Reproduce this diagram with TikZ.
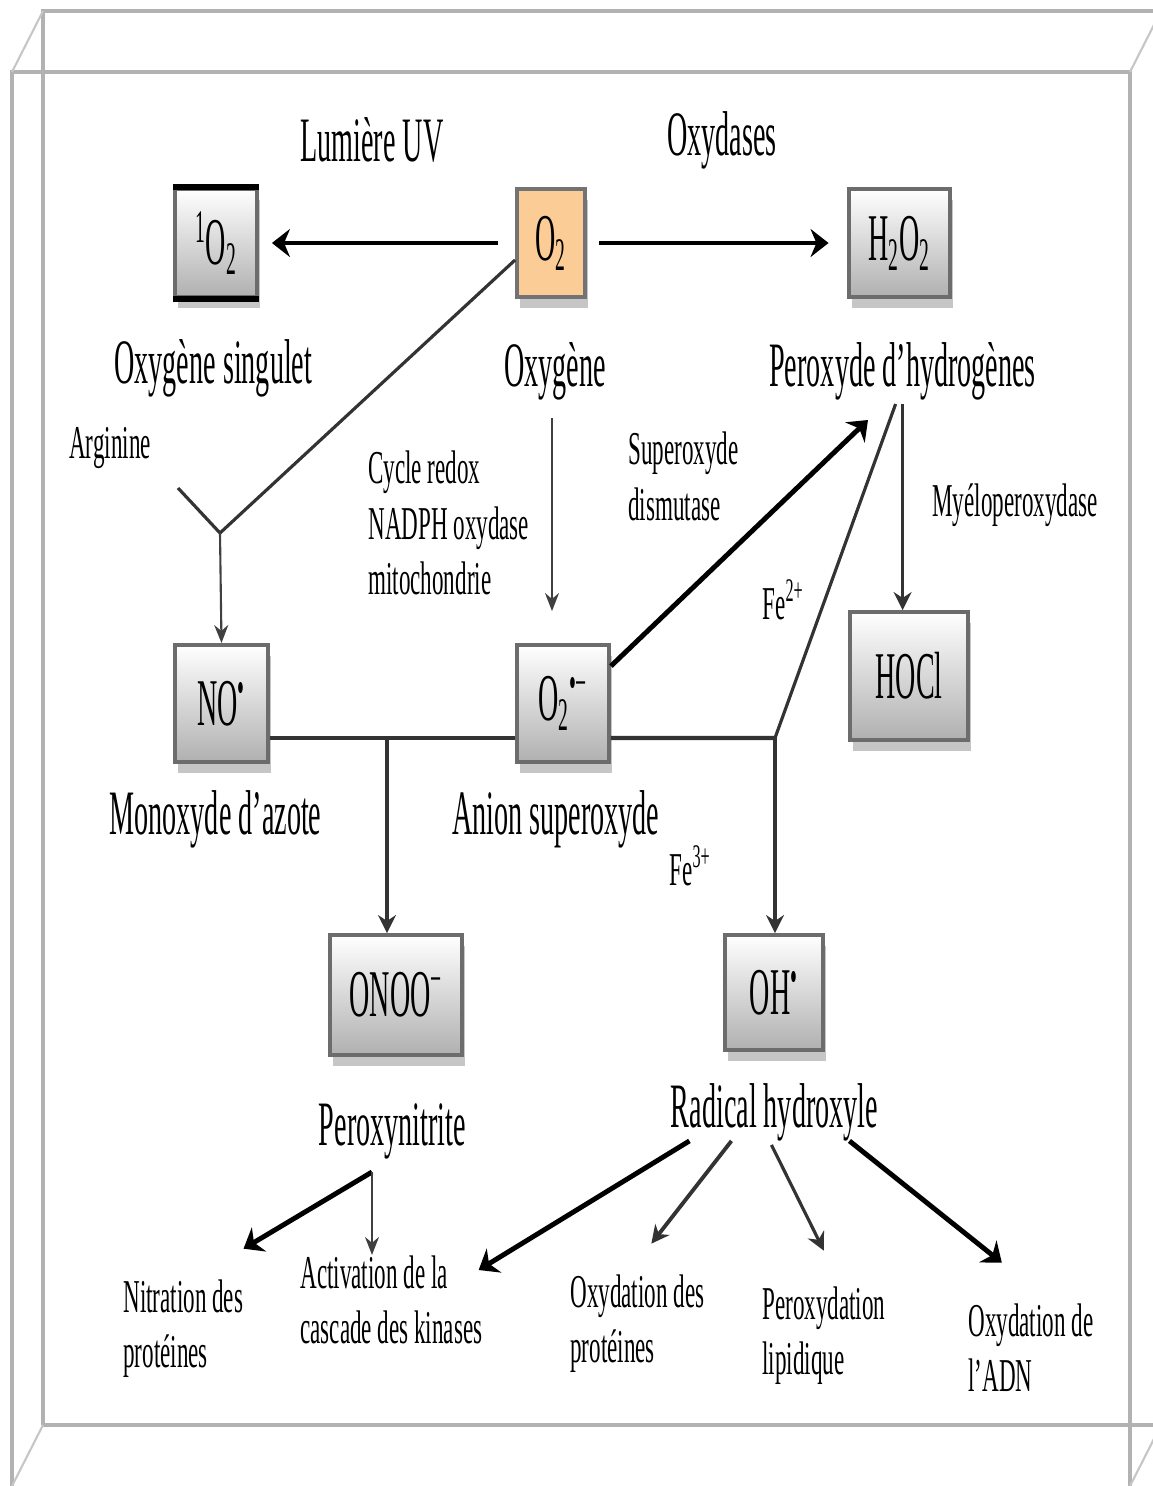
\documentclass[tikz,border=0pt]{standalone}
\usepackage{fontspec}
\setmainfont{Liberation Serif}
\usepackage{graphicx}
\usetikzlibrary{arrows.meta, positioning, calc, shadows}

\definecolor{oxorange}{RGB}{252,204,150}
\newcommand{\molname}[1]{\scalebox{0.42}[1]{#1}}

\begin{document}
\begin{tikzpicture}[
    >=Stealth,
    species/.style={rectangle, draw=gray!85!black, line width=1.1pt, top color=white, bottom color=gray!62, inner sep=0pt, font=\fontsize{19}{22}\selectfont, drop shadow={shadow xshift=0.3mm, shadow yshift=-1.1mm, fill=gray!45, opacity=1}},
    caption/.style={font=\fontsize{18}{21}\selectfont, xscale=0.445, inner sep=1pt},
    enzyme/.style={font=\fontsize{13.4}{15.8}\selectfont, xscale=0.49, inner sep=0pt, align=left},
    thickarrow/.style={-{Stealth[length=1.8mm,width=2.8mm]}, line width=1.4pt, black},
    midarrow/.style={-{Stealth[length=1.8mm,width=1.8mm]}, line width=0.9pt, black!80},
    thinarrow/.style={-{Stealth[length=1.8mm,width=1.4mm]}, line width=0.6pt, black!75},
    link/.style={line width=0.9pt, black!80},
    frameline/.style={line width=0.9pt, gray!60},
    frameedge/.style={line width=0.6pt, gray!45}
]
    \useasboundingbox (0,0) rectangle (11.53,-14.86);

    % Frame (3D box)
    \draw[frameline] (0.43,-14.25) -- (0.43,-0.11) -- (11.7,-0.11);
    \draw[frameline] (0.43,-14.25) -- (11.7,-14.25);
    \draw[frameline] (0.12,-14.95) -- (0.12,-0.72) -- (11.30,-0.72) -- (11.30,-14.95);
    \draw[frameedge] (0.43,-0.11) -- (0.12,-0.72);
    \draw[frameedge] (11.61,-0.11) -- (11.30,-0.72);
    \draw[frameedge] (0.43,-14.25) -- (0.12,-14.86);
    \draw[frameedge] (11.61,-14.25) -- (11.30,-14.86);

    % ========== Species (boxes) ==========
    \node (singlet) [species, minimum width=0.82cm, minimum height=1.08cm] at (2.16,-2.43) {\molname{\textsuperscript{1}O\textsubscript{2}}};
    \node (oxy) [species, top color=oxorange, bottom color=oxorange, draw=gray!90!black, minimum width=0.68cm, minimum height=1.08cm] at (5.51,-2.43) {\molname{O\textsubscript{2}}};
    \node (hp) [species, minimum width=1.01cm, minimum height=1.08cm] at (8.995,-2.43) {\molname{H\textsubscript{2}O\textsubscript{2}}};
    \node (no) [species, minimum width=0.93cm, minimum height=1.17cm] at (2.215,-7.035) {\molname{NO\textsuperscript{•}}};
    \node (sup) [species, minimum width=0.92cm, minimum height=1.17cm] at (5.63,-7.035) {\molname{O\textsubscript{2}\textsuperscript{•−}}};
    \node (hocl) [species, minimum width=1.18cm, minimum height=1.28cm] at (9.09,-6.76) {\molname{HOCl}};
    \node (onoo) [species, minimum width=1.32cm, minimum height=1.20cm] at (3.96,-9.95) {\molname{ONOO\textsuperscript{−}}};
    \node (oh) [species, minimum width=0.98cm, minimum height=1.15cm] at (7.74,-9.925) {\molname{OH\textsuperscript{•}}};

    % thick rims of the singlet box
    \draw[line width=1.6pt] (singlet.north west) -- (singlet.north east);
    \draw[line width=1.6pt] (singlet.south west) -- (singlet.south east);

    % ========== Captions ==========
    \node (uv) [caption] at (3.72,-1.40) {Lumière UV};
    \node (oxydases) [caption] at (7.22,-1.40) {Oxydases};
    \node (singletlbl) [caption, below=3.6mm of singlet, xshift=-0.6mm] {Oxygène singulet};
    \node (oxylbl) [caption, below=3.9mm of oxy, xshift=0.9mm] {Oxygène};
    \node (hplbl) [caption, below=3.9mm of hp, xshift=0.7mm] {Peroxyde d’hydrogènes};
    \node (nolbl) [caption, below=2.2mm of no, xshift=-1.35mm] {Monoxyde d’azote};
    \node (suplbl) [caption, below=2.2mm of sup, xshift=-1.6mm] {Anion superoxyde};
    \node (onoolbl) [caption, below=4.2mm of onoo, xshift=-0.8mm] {Peroxynitrite};
    \node (ohlbl) [caption, below=2.7mm of oh, xshift=0.1mm] {Radical hydroxyle};

    % Enzymes and cofactors
    \node (arginine) [enzyme] at (1.10,-4.48) {Arginine};
    \node (redox) [enzyme, anchor=west] at (3.68,-5.23) {Cycle redox\\NADPH oxydase\\mitochondrie};
    \node (sod) [enzyme, anchor=west] at (6.28,-4.765) {Superoxyde\\dismutase};
    \node (mpo) [enzyme] at (10.15,-5.05) {Myéloperoxydase};
    \node (fetwo) [enzyme] at (7.83,-6.00) {Fe\textsuperscript{2+}};
    \node (fethree) [enzyme] at (6.90,-8.66) {Fe\textsuperscript{3+}};

    % Targets
    \node (nitration) [enzyme, anchor=west] at (1.23,-13.285) {Nitration des\\protéines};
    \node (kinases) [enzyme, anchor=west] at (3.00,-13.00) {Activation de la\\cascade des kinases};
    \node (protox) [enzyme, anchor=west] at (5.70,-13.235) {Oxydation des\\protéines};
    \node (lipox) [enzyme, anchor=west] at (7.62,-13.355) {Peroxydation\\lipidique};
    \node (dnaox) [enzyme, anchor=west] at (9.68,-13.475) {Oxydation de\\l’ADN};

    % Junctions
    \coordinate (yjoin) at (2.20,-5.33);
    \coordinate (argtail) at (1.78,-4.88);
    \coordinate (sodtip) at (8.68,-4.20);
    \coordinate (onoojoin) at (3.87,-7.38);
    \coordinate (ohjoin) at (7.75,-7.38);
    \coordinate (pnjoin) at (3.72,-11.72);

    % Upper row
    \draw[thickarrow] ([xshift=-1.7mm]oxy.west) -- ([xshift=1.3mm]singlet.east);
    \draw[thickarrow] ([xshift=1.2mm]oxy.east) -- ([xshift=-1.85mm]hp.west);

    % Towards NO
    \draw[link] ([yshift=-1.7mm]oxy.west) -- (yjoin);
    \draw[link] (argtail) -- (yjoin);
    \draw[thinarrow] (yjoin) -- (no.north);

    % Towards superoxide and back to H2O2
    \draw[thinarrow] ([xshift=-0.3mm,yshift=-1.4mm]oxylbl.south) -- ([xshift=-0.3mm,yshift=3.2mm]oxylbl.south |- sup.north);
    \draw[thickarrow] ([yshift=-2.3mm]sup.north east) -- (sodtip);
    \draw[midarrow] (hplbl.south) -- (hplbl.south |- hocl.north);
    \draw[link] ([xshift=-0.7mm]hplbl.south) -- (ohjoin);

    % Middle row
    \draw[link, line width=1.2pt] ([yshift=-3.45mm]no.east) -- ([yshift=-3.45mm]sup.west);
    \draw[link, line width=1.2pt] ([yshift=-3.45mm]sup.east) -- (ohjoin);
    \draw[midarrow] (onoojoin) -- (onoojoin |- onoo.north);
    \draw[midarrow] (ohjoin) -- (ohjoin |- oh.north);

    % Effects of peroxynitrite
    \draw[thickarrow] (pnjoin) -- ([yshift=3mm]nitration.north east);
    \draw[thinarrow] (pnjoin) -- (pnjoin |- kinases.north);

    % Effects of the hydroxyl radical
    \draw[thickarrow] ([xshift=-8.5mm,yshift=0.4mm]ohlbl.south) -- ([xshift=-0.4mm,yshift=3mm]kinases.east);
    \draw[midarrow, line width=1.1pt] ([xshift=-4.3mm,yshift=0.4mm]ohlbl.south) -- ([xshift=1.4mm,yshift=3mm]protox.north);
    \draw[midarrow] ([xshift=-0.3mm]ohlbl.south) -- ([yshift=3.5mm]lipox.north);
    \draw[thickarrow] ([xshift=7.5mm,yshift=0.4mm]ohlbl.south) -- ([xshift=-2.9mm,yshift=4mm]dnaox.north);
\end{tikzpicture}
\end{document}
